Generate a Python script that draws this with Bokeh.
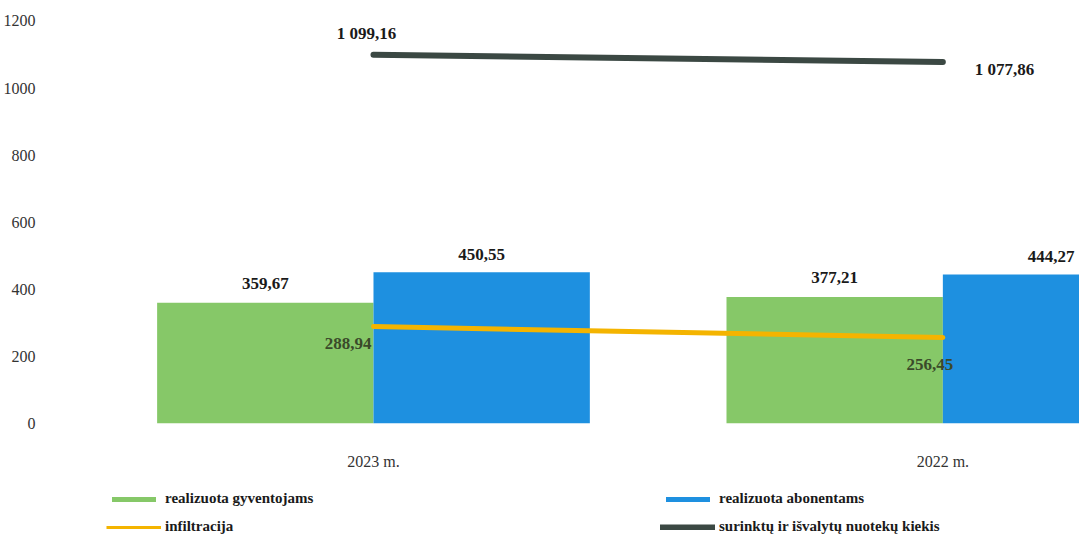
from bokeh.plotting import figure
from bokeh.models import ColumnDataSource, Range1d, FixedTicker, Legend, LegendItem
from bokeh.layouts import column
from bokeh.core.properties import value
from bokeh.embed import file_html
from bokeh.resources import INLINE

# ---- data ----
categories = ["2023 m.", "2022 m."]
gyventojams = [359.67, 377.21]
abonentams = [450.55, 444.27]
infiltracija = [288.94, 256.45]
surinkta = [1099.16, 1077.86]
y_ticks = [0, 200, 400, 600, 800, 1000, 1200]
series_names = ["realizuota gyventojams", "realizuota abonentams",
                "infiltracija", "surinktų ir išvalytų nuotekų kiekis"]

GREEN, BLUE, YELLOW, DARK = "#86c868", "#1e90e0", "#f4b400", "#3b4843"


def fmt(v):
    return f"{v:,.2f}".replace(",", " ").replace(".", ",")


xpos = list(range(len(categories)))
BW = 0.38
SERIF = value("Liberation Serif")

p = figure(width=1079, height=487, output_backend="svg", toolbar_location=None,
           x_range=Range1d(-0.562, 1.24), y_range=Range1d(0, 1261))
p.min_border_top = 0
p.min_border_right = 0
p.min_border_left = 37
p.min_border_bottom = 64
p.outline_line_color = None
p.xgrid.grid_line_color = None
p.ygrid.grid_line_color = None

src_g = ColumnDataSource(dict(x=[x - BW / 2 for x in xpos], top=gyventojams,
                              lab=[fmt(v) for v in gyventojams]))
src_b = ColumnDataSource(dict(x=[x + BW / 2 for x in xpos], top=abonentams,
                              lab=[fmt(v) for v in abonentams]))

p.vbar(x="x", top="top", bottom=0, width=BW, source=src_g,
       fill_color=GREEN, line_color=None)
p.vbar(x="x", top="top", bottom=0, width=BW, source=src_b,
       fill_color=BLUE, line_color=None)

p.line(xpos, surinkta, line_color=DARK, line_width=6, line_cap="round")
p.line(xpos, infiltracija, line_color=YELLOW, line_width=5, line_cap="round")

lab_style = dict(text_font=SERIF, text_font_style="bold", text_font_size="17px",
                 text_color="#1a1a1a")
p.text(x="x", y="top", text="lab", source=src_g, text_align="center",
       text_baseline="bottom", y_offset=-14, **lab_style)
p.text(x="x", y="top", text="lab", source=src_b, text_align="center",
       text_baseline="bottom", y_offset=-12, **lab_style)

# line labels
p.text(x=[xpos[0]], y=[surinkta[0]], text=[fmt(surinkta[0])], text_align="center",
       text_baseline="bottom", y_offset=-12, x_offset=-7, **lab_style)
p.text(x=[xpos[1]], y=[surinkta[1]], text=[fmt(surinkta[1])], text_align="left",
       text_baseline="middle", x_offset=32, y_offset=8, **lab_style)
p.text(x=[xpos[0]], y=[infiltracija[0]], text=[fmt(infiltracija[0])], text_align="right",
       text_baseline="middle", x_offset=-2, y_offset=17, text_font=SERIF,
       text_font_style="bold", text_font_size="17px", text_color="#3a4a2a")
p.text(x=[xpos[1]], y=[infiltracija[1]], text=[fmt(infiltracija[1])], text_align="center",
       text_baseline="middle", x_offset=-13, y_offset=27, text_font=SERIF,
       text_font_style="bold", text_font_size="17px", text_color="#3a4a2a")

# axes
p.yaxis.ticker = FixedTicker(ticks=y_ticks)
p.yaxis.axis_line_color = None
p.yaxis.major_tick_line_color = None
p.yaxis.minor_tick_line_color = None
p.yaxis.major_label_text_font = "Liberation Serif"
p.yaxis.major_label_text_font_size = "16px"
p.yaxis.major_label_text_color = "#333333"
p.yaxis.major_label_standoff = 12

p.xaxis.ticker = FixedTicker(ticks=xpos)
p.xaxis.major_label_overrides = {i: c for i, c in zip(xpos, categories)}
p.xaxis.axis_line_color = None
p.xaxis.major_tick_line_color = None
p.xaxis.minor_tick_line_color = None
p.xaxis.major_label_text_font = "Liberation Serif"
p.xaxis.major_label_text_font_size = "16px"
p.xaxis.major_label_text_color = "#333333"
p.xaxis.major_label_standoff = 23

# ---- legend strip (separate figure below) ----
q = figure(width=1079, height=50, output_backend="svg", toolbar_location=None,
           x_range=Range1d(0, 1), y_range=Range1d(0, 1),
           x_axis_location=None, y_axis_location=None)
q.min_border = 0
q.outline_line_color = None
q.xgrid.grid_line_color = None
q.ygrid.grid_line_color = None

# off-screen stand-ins so the legend can draw its swatches
lg_g = q.vbar(x=[-5], top=[-5], bottom=[-6], width=0.1, fill_color=GREEN, line_color=None)
lg_b = q.vbar(x=[-5], top=[-5], bottom=[-6], width=0.1, fill_color=BLUE, line_color=None)
lg_y = q.line(x=[-5, -4], y=[-5, -5], line_color=YELLOW, line_width=3)
lg_d = q.line(x=[-5, -4], y=[-5, -5], line_color=DARK, line_width=6, line_cap="round")


def make_legend(items, loc):
    lg = Legend(items=items, orientation="vertical", location=loc)
    lg.glyph_width = 55
    lg.glyph_height = 6
    lg.label_standoff = 4
    lg.spacing = 11
    lg.padding = 2
    lg.margin = 0
    lg.border_line_color = None
    lg.background_fill_alpha = 0
    lg.label_text_font = "Liberation Serif"
    lg.label_text_font_style = "bold"
    lg.label_text_font_size = "15px"
    lg.label_text_color = "#1a1a1a"
    return lg


leg1 = make_legend([LegendItem(label=series_names[0], renderers=[lg_g]),
                    LegendItem(label=series_names[2], renderers=[lg_y])], (53, 2))
leg2 = make_legend([LegendItem(label=series_names[1], renderers=[lg_b]),
                    LegendItem(label=series_names[3], renderers=[lg_d])], (607, 2))
q.add_layout(leg1)
q.add_layout(leg2)

layout = column(p, q, spacing=0)
open("out.html", "w").write(file_html(layout, INLINE))
